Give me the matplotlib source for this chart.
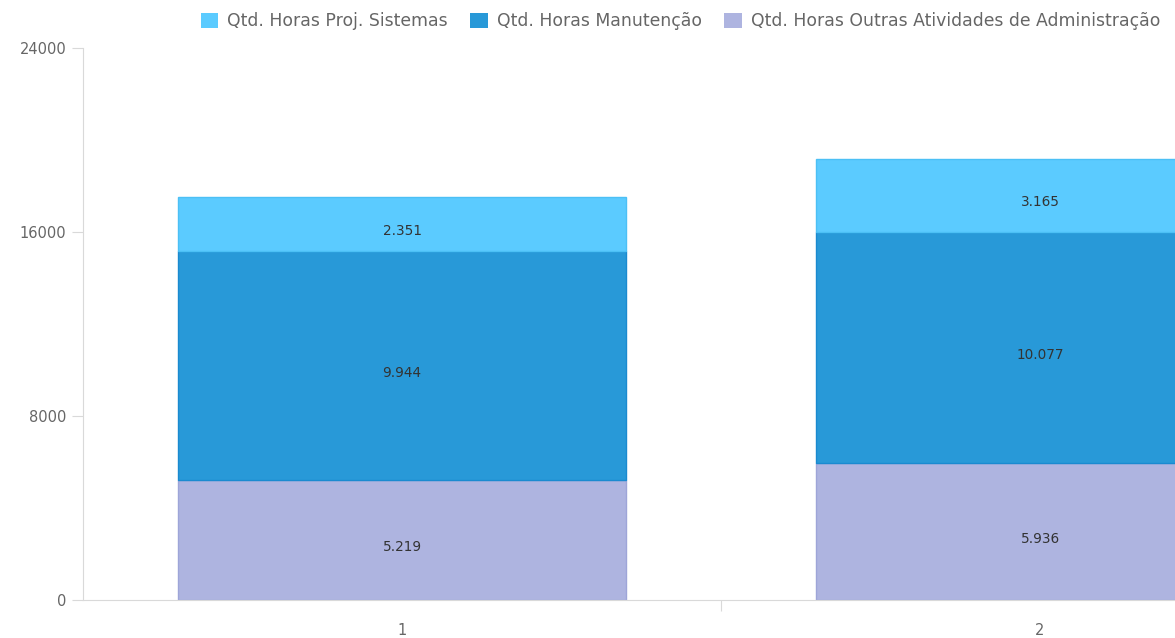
import matplotlib.pyplot as plt
import matplotlib.transforms as mtransforms
from matplotlib.patches import Patch

# data
categories = ['1', '2']
outras_adm = [5219, 5936]
manutencao = [9944, 10077]
proj_sistemas = [2351, 3165]

series = [
    ('Qtd. Horas Outras Atividades de Administração', outras_adm, '#aeb4e0', '#9ea5d8'),
    ('Qtd. Horas Manutenção', manutencao, '#2899d8', '#1a8ad0'),
    ('Qtd. Horas Proj. Sistemas', proj_sistemas, '#5bcbff', '#4cc0f5'),
]

fig = plt.figure(figsize=(11.75, 6.38), dpi=100)
W, H = 1175, 638
# axes extends past the right edge: the second bar is cut off in the reference
ax = fig.add_axes([83 / W, 38 / H, 1276 / W, 552 / H])

# value labels sit a bit below the segment centre in the reference
lbl_off = ax.transData + mtransforms.ScaledTranslation(0, -7 / 100, fig.dpi_scale_trans)

x = range(len(categories))
bottom = [0] * len(categories)
for name, vals, color, edge in series:
    ax.bar(x, vals, width=0.703, bottom=bottom, color=color,
           edgecolor=edge, linewidth=1.0, label=name, zorder=2)
    for xi, v, b in zip(x, vals, bottom):
        ax.text(xi, b + v / 2, f'{v:,}'.replace(',', '.'), ha='center', va='center',
                fontsize=9.8, color='#333333', zorder=3, transform=lbl_off)
    bottom = [b + v for b, v in zip(bottom, vals)]

ax.set_xlim(-0.5, 1.5)
ax.set_ylim(0, 24000)
ax.set_yticks([0, 8000, 16000, 24000])
ax.set_xticks([0.5])
ax.set_xticklabels([''])
for xi, c in zip(x, categories):
    ax.text(xi, -1000, c, ha='center', va='top', fontsize=10.5, color='#666666')

for s in ['top', 'right']:
    ax.spines[s].set_visible(False)
for s in ['left', 'bottom']:
    ax.spines[s].set_color('#d9d9d9')
ax.tick_params(axis='both', colors='#d9d9d9', labelcolor='#666666', labelsize=10.5,
               length=8, pad=4)

handles = [Patch(facecolor=c, edgecolor='none', label=n) for n, _, c, _ in reversed(series)]
fig.legend(handles=handles, loc='upper right', bbox_to_anchor=(1176 / W, 1.005), ncol=3,
           frameon=False, fontsize=12.4, handlelength=1.0, handleheight=1.0,
           handletextpad=0.55, columnspacing=1.3, labelcolor='#666666')

plt.savefig('out.png', dpi=100)
plt.close()
